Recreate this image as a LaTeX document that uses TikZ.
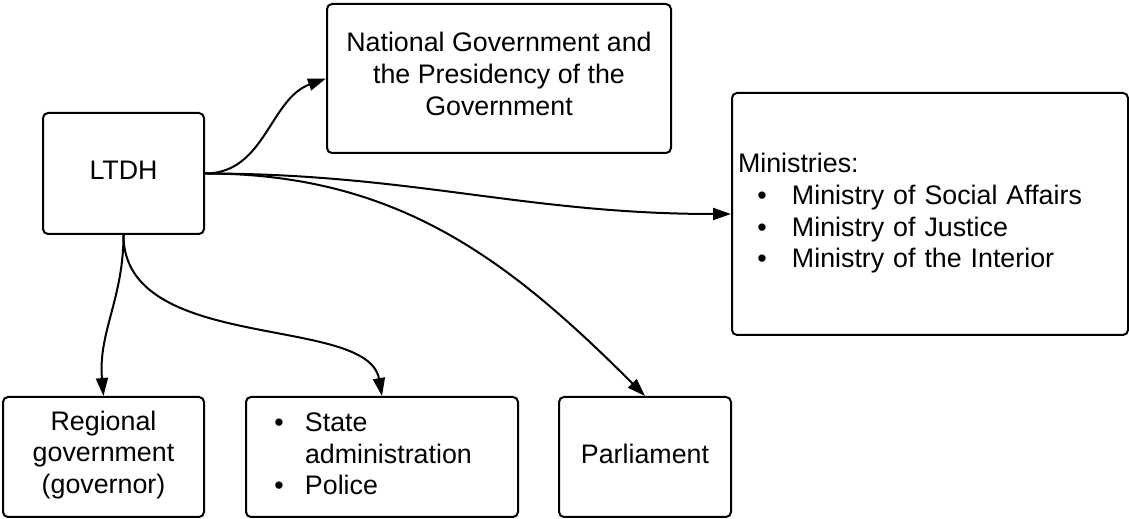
\documentclass[tikz,border=0pt]{standalone}
\usepackage{fontspec}
\setmainfont{Liberation Sans}
\usetikzlibrary{arrows.meta}
\tikzset{>={Triangle[length=9pt,width=6pt]}}
\tikzset{
  box/.style={draw,line width=1pt,rounded corners=2.5pt,inner sep=3pt,
    font=\fontsize{13.4}{15.8}\selectfont,
    execute at begin node=\strut,execute at end node=\strut},
  link/.style={->,line width=1pt}
}
\newcommand{\bitem}[2]{\hspace*{#1}\makebox[#2][l]{\textbullet}}

\begin{document}
\begin{tikzpicture}[x=0.5pt,y=0.5pt]
				\useasboundingbox (0,0) rectangle (1129,519);
				\node[box,minimum width=80.5pt,minimum height=60.5pt] (ltdh) at (123.5,345.5) {LTDH};
				\node[box,minimum width=172pt,minimum height=74.5pt,align=center] (natgov) at (499,440.5)
					{National Government and\\the Presidency of the\\Government};
				\node[box,minimum width=198pt,minimum height=121pt,text width=192pt,align=left] (mins) at (930,305)
					{Ministries:\\
					\bitem{9.7pt}{17.3pt}Ministry of Social Affairs\\
					\bitem{9.7pt}{17.3pt}Ministry of Justice\\
					\bitem{9.7pt}{17.3pt}Ministry of the Interior};
				\node[box,minimum width=100.5pt,minimum height=60pt,align=center] (regional) at (103.5,62)
					{Regional\\government\\(governor)};
				\node[box,minimum width=136pt,minimum height=60pt,text width=130pt,align=left] (state) at (382,62)
					{\bitem{11.2pt}{15.3pt}State\\
					\hspace*{26.5pt}administration\\
					\bitem{11.2pt}{15.3pt}Police};
				\node[box,minimum width=86pt,minimum height=60pt] (parl) at (645,62) {Parliament};
				% connectors
				\draw[link] (ltdh.east) to[out=0,in=200] (natgov.west);
				\draw[link] (ltdh.east) to[out=0,in=180] (mins.west);
				\draw[link] (ltdh.east) to[out=0,in=135] (parl.north);
				\draw[link] (ltdh.south) to[out=-90,in=95] (regional.north);
				\draw[link] (ltdh.south) to[out=-90,in=100,in looseness=0.7] (state.north);
\end{tikzpicture}
\end{document}
